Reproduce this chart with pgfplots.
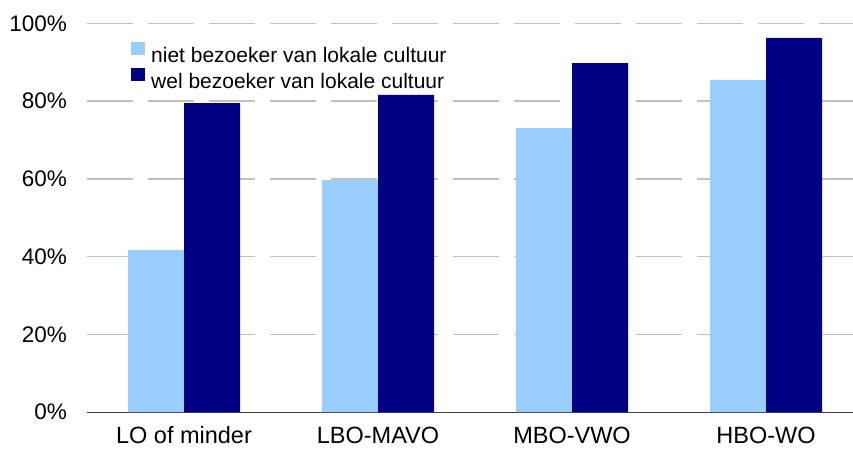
\documentclass[border=0pt]{standalone}
\usepackage{fontspec}
\setmainfont{Liberation Sans}
\usepackage{pgfplots}
\pgfplotsset{compat=1.18}
\definecolor{lightbar}{HTML}{99CCFF}
\definecolor{darkbar}{HTML}{000080}
\definecolor{gridgray}{HTML}{C0C0C0}
\begin{document}
\begin{tikzpicture}
\useasboundingbox (0,0) rectangle (853pt,456pt);
\begin{axis}[
  at={(87pt,44pt)}, anchor=south west,
  scale only axis,
  width=776pt, height=388.5pt,
  xmin=-0.5, xmax=3.5, ymin=0, ymax=100,
  ybar=0pt, bar width=56pt,
  xtick={0,1,2,3},
  xticklabels={LO of minder, LBO-MAVO, MBO-VWO, HBO-WO},
  ytick={20,40,...,100},
  yticklabels={20\%,40\%,60\%,80\%,100\%},
  extra y ticks={0}, extra y tick labels={0\%},
  extra y tick style={grid=none},
  major tick length=0pt,
  axis x line*=bottom, axis y line*=left,
  x axis line style={draw=black!75, line width=1pt, -},
  y axis line style={draw=none},
  ymajorgrids,
  grid style={gridgray, line width=1.5pt, dash pattern=on 46pt off 15pt},
  xticklabel style={font=\fontsize{23.5}{26}\selectfont, anchor=base, yshift=-31pt, inner sep=0pt},
  yticklabel style={font=\fontsize{22.5}{25}\selectfont, anchor=east, xshift=-20pt, inner sep=0pt},
  legend style={at={(0.0567,0.953)}, anchor=north west, draw=none, fill=none,
    inner sep=0pt, font=\fontsize{21}{24}\selectfont, row sep=4pt, column sep=6pt,
    nodes={inner sep=0pt}},
  legend cell align=left,
  legend image code/.code={\fill[#1] (0pt,0pt) rectangle (14pt,13.5pt);},
]
\addplot[draw=none, fill=lightbar] coordinates {(0,41.7) (1,59.7) (2,73.1) (3,85.5)};
\addplot[draw=none, fill=darkbar] coordinates {(0,79.5) (1,81.6) (2,89.8) (3,96.3)};
\legend{niet bezoeker van lokale cultuur, wel bezoeker van lokale cultuur}
\end{axis}
\end{tikzpicture}
\end{document}
